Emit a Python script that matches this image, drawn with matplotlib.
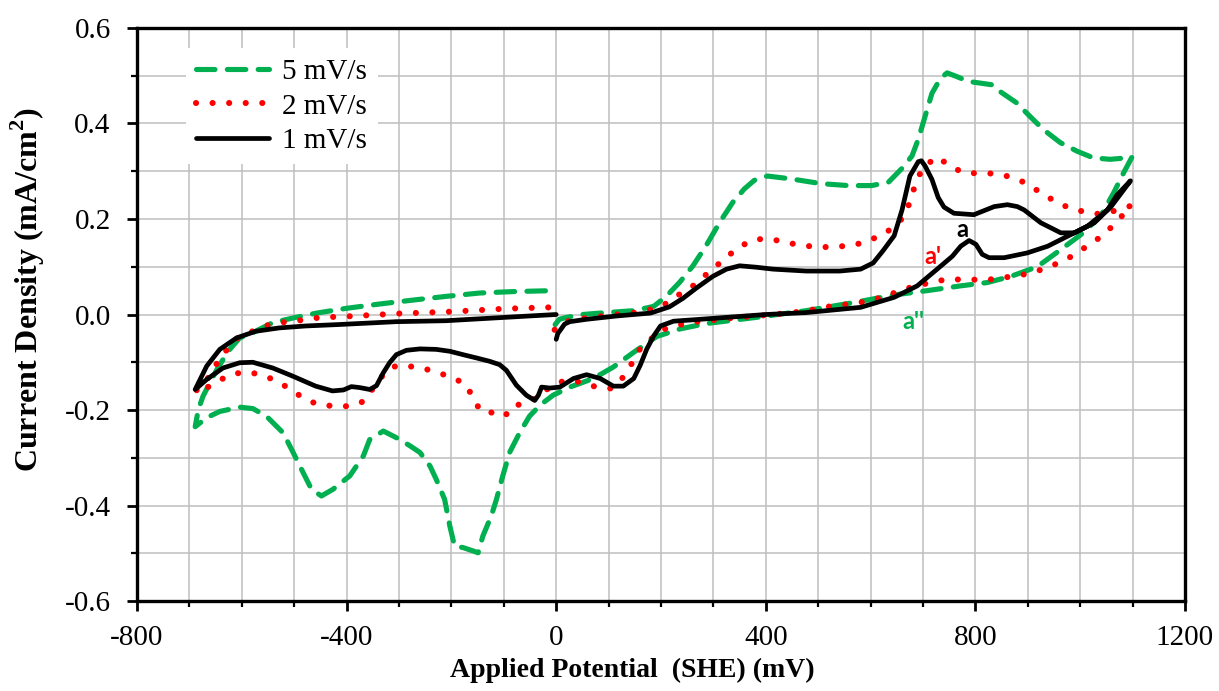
import matplotlib
matplotlib.use("Agg")
import matplotlib.pyplot as plt
import numpy as np

plt.rcParams["font.family"] = "Liberation Serif"
plt.rcParams["axes.unicode_minus"] = False
plt.rcParams["mathtext.fontset"] = "custom"
plt.rcParams["mathtext.rm"] = "Liberation Serif"
plt.rcParams["mathtext.bf"] = "Liberation Serif:bold"

# cyclic voltammograms, (potential mV vs SHE, current density mA/cm2)
# scan order: 0 -> +1100 -> -700 -> 0
scan_5mv = [
    (-2, -0.021), (6, -0.010), (20, -0.006), (50, 0.000), (95, 0.004), (148, 0.008),
    (186, 0.017), (210, 0.038), (236, 0.068), (261, 0.102), (286, 0.144), (312, 0.193),
    (337, 0.235), (359, 0.263), (378, 0.281), (403, 0.290), (448, 0.284), (506, 0.274),
    (557, 0.270), (602, 0.270), (634, 0.277), (659, 0.305), (679, 0.332), (691, 0.367),
    (704, 0.415), (717, 0.463), (733, 0.494), (746, 0.506), (765, 0.498), (787, 0.488),
    (813, 0.484), (832, 0.481), (847, 0.467), (879, 0.443), (904, 0.415), (930, 0.387),
    (962, 0.360), (994, 0.342), (1025, 0.328), (1057, 0.325), (1089, 0.328), (1099, 0.330),
    (1083, 0.297), (1064, 0.255), (1039, 0.206), (1001, 0.167), (963, 0.136), (918, 0.100),
    (868, 0.080), (823, 0.067), (772, 0.060), (708, 0.050), (645, 0.041), (573, 0.026),
    (477, 0.008), (382, -0.006), (286, -0.019), (237, -0.030), (192, -0.046), (148, -0.079),
    (109, -0.110), (71, -0.134), (26, -0.152), (-6, -0.169), (-31, -0.190), (-51, -0.213),
    (-70, -0.248), (-89, -0.289), (-102, -0.338), (-114, -0.387), (-124, -0.422),
    (-140, -0.464), (-149, -0.499), (-159, -0.495), (-178, -0.488), (-194, -0.485),
    (-203, -0.443), (-213, -0.387), (-229, -0.345), (-241, -0.317), (-260, -0.289),
    (-279, -0.275), (-305, -0.258), (-330, -0.244), (-356, -0.262), (-368, -0.296),
    (-394, -0.338), (-426, -0.366), (-448, -0.380), (-467, -0.366), (-483, -0.331),
    (-502, -0.289), (-521, -0.248), (-553, -0.213), (-579, -0.197), (-604, -0.194),
    (-642, -0.203), (-667, -0.216), (-689, -0.235),
    (-683, -0.199), (-674, -0.171), (-661, -0.143), (-645, -0.110), (-623, -0.073),
    (-604, -0.049), (-579, -0.038), (-541, -0.017), (-497, -0.006), (-457, 0.003),
    (-400, 0.013), (-337, 0.022), (-267, 0.031), (-210, 0.038), (-146, 0.045),
    (-82, 0.048), (-5, 0.050),
]

scan_2mv = [
    (-3, -0.032), (13, -0.016), (58, -0.007), (116, 0.000), (167, 0.006), (204, 0.019),
    (232, 0.040), (258, 0.057), (280, 0.078), (306, 0.102), (328, 0.123), (353, 0.144),
    (382, 0.158), (414, 0.157), (442, 0.150), (474, 0.144), (506, 0.141), (535, 0.142),
    (567, 0.145), (595, 0.154), (624, 0.168), (643, 0.182), (662, 0.203), (675, 0.235),
    (688, 0.283), (704, 0.312), (728, 0.330), (752, 0.310), (780, 0.296), (810, 0.296),
    (838, 0.295), (868, 0.288), (897, 0.275), (922, 0.257), (949, 0.239), (979, 0.223),
    (1008, 0.215), (1038, 0.210), (1069, 0.218), (1098, 0.228),
    (1076, 0.202), (1055, 0.178), (1031, 0.156), (1006, 0.138), (979, 0.119), (952, 0.105),
    (923, 0.093), (893, 0.084), (869, 0.080), (839, 0.074), (808, 0.073), (777, 0.073),
    (746, 0.074), (716, 0.067), (686, 0.060), (657, 0.050), (627, 0.038), (599, 0.029),
    (563, 0.022), (532, 0.019), (503, 0.013), (474, 0.007), (442, 0.003), (414, 0.000),
    (382, -0.003), (350, -0.006), (318, -0.009), (290, -0.013), (258, -0.016),
    (231, -0.023), (205, -0.031), (180, -0.052), (160, -0.072), (144, -0.103),
    (128, -0.131), (106, -0.155), (77, -0.152), (45, -0.141), (17, -0.138), (-10, -0.150),
    (-37, -0.174), (-63, -0.188), (-82, -0.190), (-98, -0.213), (-119, -0.206),
    (-145, -0.202), (-159, -0.172), (-175, -0.144), (-200, -0.132), (-224, -0.122),
    (-250, -0.114), (-276, -0.109), (-305, -0.107), (-324, -0.119), (-343, -0.143),
    (-365, -0.181), (-394, -0.192), (-424, -0.192), (-456, -0.188), (-484, -0.174),
    (-509, -0.155), (-538, -0.137), (-566, -0.125), (-595, -0.120), (-624, -0.127),
    (-651, -0.143), (-677, -0.160), (-689, -0.162),
    (-675, -0.145), (-661, -0.129), (-645, -0.097), (-626, -0.070), (-604, -0.045),
    (-579, -0.035), (-547, -0.021), (-519, -0.016), (-487, -0.012), (-456, -0.007),
    (-424, -0.005), (-400, -0.004), (-300, 0.002), (-200, 0.006), (-100, 0.012),
    (-44, 0.014), (-10, 0.015),
]

scan_1mv = [
    (0, -0.052), (3, -0.040), (7, -0.034), (16, -0.020), (26, -0.015), (58, -0.010),
    (116, -0.003), (180, 0.003), (216, 0.016), (242, 0.034), (267, 0.055), (299, 0.080),
    (325, 0.095), (350, 0.102), (382, 0.099), (414, 0.095), (477, 0.091), (541, 0.091),
    (581, 0.095), (605, 0.108), (624, 0.134), (645, 0.165), (660, 0.219), (675, 0.290),
    (691, 0.320), (697, 0.322), (704, 0.311), (717, 0.283), (729, 0.245), (740, 0.225),
    (759, 0.212), (797, 0.209), (836, 0.226), (861, 0.230), (880, 0.226), (893, 0.219),
    (925, 0.192), (963, 0.171), (989, 0.171), (1027, 0.192), (1059, 0.226), (1096, 0.280),
    (1070, 0.250), (1052, 0.219), (1014, 0.185), (976, 0.164), (938, 0.143), (899, 0.129),
    (855, 0.119), (826, 0.119), (813, 0.126), (801, 0.147), (788, 0.155), (772, 0.143),
    (756, 0.122), (727, 0.095), (689, 0.060), (645, 0.036), (581, 0.015), (477, 0.004),
    (400, 0.000), (275, -0.010), (224, -0.014), (199, -0.024), (186, -0.045),
    (173, -0.072), (160, -0.107), (148, -0.134), (128, -0.150), (109, -0.150),
    (84, -0.134), (58, -0.126), (33, -0.134), (7, -0.152), (-12, -0.154), (-28, -0.152),
    (-34, -0.169), (-41, -0.180), (-57, -0.169), (-76, -0.148), (-95, -0.117),
    (-108, -0.105), (-127, -0.098), (-152, -0.091), (-178, -0.084), (-203, -0.077),
    (-229, -0.073), (-260, -0.072), (-286, -0.075), (-305, -0.084), (-318, -0.101),
    (-330, -0.122), (-343, -0.149), (-356, -0.157), (-375, -0.153), (-391, -0.151),
    (-406, -0.158), (-427, -0.160), (-459, -0.150), (-503, -0.129), (-541, -0.112),
    (-579, -0.100), (-604, -0.101), (-636, -0.112), (-667, -0.136), (-689, -0.157),
    (-667, -0.108), (-642, -0.073), (-610, -0.049), (-573, -0.035), (-528, -0.028),
    (-478, -0.024), (-415, -0.021), (-305, -0.015), (-210, -0.013), (-114, -0.007),
    (-50, -0.003), (0, 0.000),
]

x_ticks = [-800, -400, 0, 400, 800, 1200]
x_tick_labels = ["-800", "-400", "0", "400", "800", "1200"]
y_ticks = [-0.6, -0.4, -0.2, 0.0, 0.2, 0.4, 0.6]
y_tick_labels = ["-0.6", "-0.4", "-0.2", "0.0", "0.2", "0.4", "0.6"]

# peak labels: (text, mV, mA/cm2, colour)
peak_labels = [
    ("a", 764, 0.163, "black"),
    ("a'", 703, 0.105, "#FF0000"),
    ("a''", 660, -0.031, "#00B050"),
]

fig = plt.figure(figsize=(12.19, 6.91), dpi=100)
ax = fig.add_axes([0.1124, 0.1302, 0.8597, 0.8293])

g = np.array(scan_5mv)
r = np.array(scan_2mv)
b = np.array(scan_1mv)

ax.plot(g[:, 0], g[:, 1], color="#00B050", lw=3.7, dashes=(3.6, 2.4),
        dash_capstyle="round", label="5 mV/s")
ax.plot(r[:, 0], r[:, 1], color="#FF0000", lw=4.4, dashes=(0.01, 2.7),
        dash_capstyle="round", label="2 mV/s")
ax.plot(b[:, 0], b[:, 1], color="black", lw=3.4, solid_joinstyle="round",
        solid_capstyle="round", label="1 mV/s")

for txt, xv, yv, c in peak_labels:
    ax.text(xv, yv, txt, color=c, fontsize=17, fontweight="bold", family="Lato",
            ha="left", va="baseline")

ax.set_xlim(-800, 1200)
ax.set_ylim(-0.6, 0.6)
ax.set_xticks(x_ticks)
ax.set_xticklabels(x_tick_labels)
ax.set_xticks(np.arange(-800, 1201, 100), minor=True)
ax.set_yticks(y_ticks)
ax.set_yticklabels(y_tick_labels)
ax.set_yticks(np.round(np.arange(-0.6, 0.61, 0.1), 1), minor=True)

ax.grid(which="both", color="#BFBFBF", lw=1.1)
ax.set_axisbelow(True)
for s in ax.spines.values():
    s.set_linewidth(2.4)

ax.tick_params(which="major", direction="out", length=7, width=2, labelsize=21, pad=12)
ax.tick_params(which="minor", direction="out", length=4, width=1.6)
ax.tick_params(axis="x", which="major", pad=10)

ax.set_xlabel("Applied Potential  (SHE) (mV)", fontsize=20, fontweight="bold")
ax.xaxis.set_label_coords(0.473, -0.1)
ax.set_ylabel("Current Density (mA/cm$^{\\mathbf{2}}$)", fontsize=23, fontweight="bold")
ax.yaxis.set_label_coords(-0.086, 0.543)

leg = ax.legend(loc="upper left", bbox_to_anchor=(0.033, 0.99), prop={"size": 21},
                handlelength=2.5, handletextpad=0.45, labelspacing=0.28, borderpad=0.35,
                frameon=True, fancybox=False, edgecolor="none", framealpha=1)

fig.savefig("out.png", dpi=100)
